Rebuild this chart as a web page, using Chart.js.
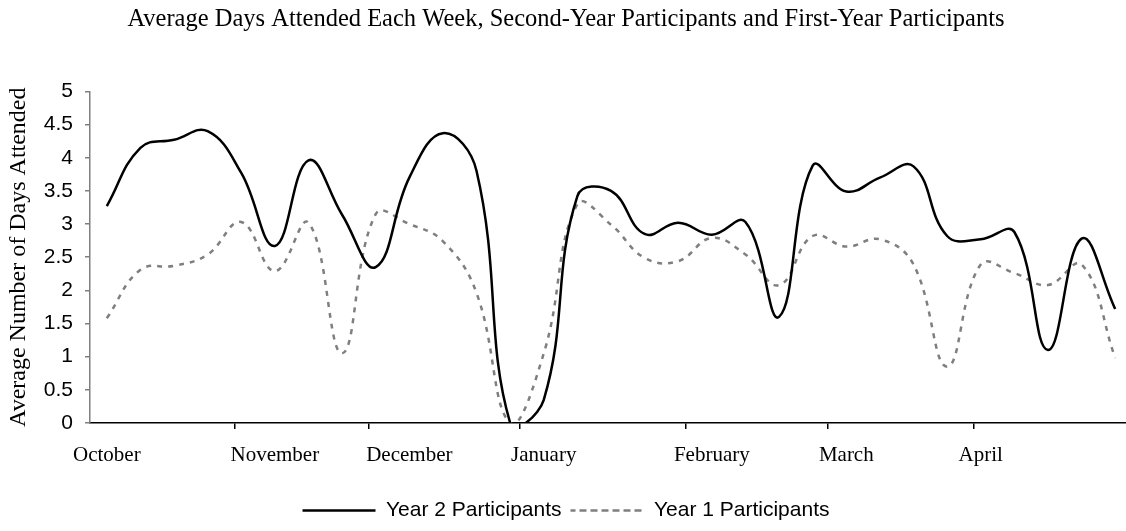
<!DOCTYPE html>
<html>
<head>
<meta charset="utf-8">
<title>Average Days Attended Each Week</title>
<script src="https://cdn.jsdelivr.net/npm/chart.js@4.4.1/dist/chart.umd.min.js"></script>
<style>
  html, body { margin: 0; padding: 0; background: #fff; overflow: hidden; }
  /* plot area runs a few px past the right edge, like the original */
  #wrap { position: relative; width: 1132px; height: 531px; }
</style>
</head>
<body>
<div id="wrap"><canvas id="attendance"></canvas></div>
<script>
  // Weekly averages, October through April (one value per week)
  var year2Values = [3.27, 4.15, 4.27, 4.40, 3.77, 2.67, 3.96, 3.14, 2.35, 3.70, 4.37, 3.80, 0, 0.35, 3.42, 3.50,
    2.85, 3.02, 2.84, 3.03, 1.60, 3.88, 3.49, 3.70, 3.87, 2.82, 2.77, 2.88, 1.10, 2.78, 1.72];
  var year1Values = [1.58, 2.31, 2.37, 2.54, 3.03, 2.29, 3.02, 1.05, 3.15, 3.00, 2.74, 1.96, 0, 1.05, 3.30, 2.99,
    2.49, 2.44, 2.79, 2.54, 2.08, 2.82, 2.66, 2.77, 2.39, 0.85, 2.39, 2.26, 2.08, 2.39, 0.98];

  // Month names and the week each label sits under
  var monthNames = ['October', 'November', 'December', 'January', 'February', 'March', 'April'];
  var monthLabelWeeks = [0, 5, 9, 13, 18, 22, 26];
  // Where the month tick marks fall, in week units
  var monthTickWeeks = [3.82, 7.80, 12.30, 17.21, 21.46, 25.78];

  var seriesNames = ['Year 2 Participants', 'Year 1 Participants'];
  var yTicks = { min: 0, max: 5, step: 0.5 };

  var SERIF = '"Liberation Serif", "Times New Roman", serif';
  var SANS = '"Liberation Sans", Arial, sans-serif';

  var weekLabels = year2Values.map(function (v, i) {
    var k = monthLabelWeeks.indexOf(i);
    return k >= 0 ? monthNames[k] : '';
  });

  new Chart(document.getElementById('attendance'), {
    type: 'line',
    data: {
      labels: weekLabels,
      datasets: [{
        label: seriesNames[0],
        data: year2Values,
        borderColor: '#000',
        backgroundColor: 'transparent',
        borderWidth: 2.5,
        pointRadius: 0,
        tension: 0.42,
        capBezierPoints: false,
        fill: false
      }, {
        label: seriesNames[1],
        data: year1Values,
        borderColor: '#7f7f7f',
        backgroundColor: 'transparent',
        borderWidth: 2.5,
        borderDash: [5, 6],
        pointRadius: 0,
        tension: 0.42,
        capBezierPoints: false,
        fill: false
      }]
    },
    options: {
      responsive: true,
      maintainAspectRatio: false,
      animation: false,
      layout: { padding: 0 },
      plugins: {
        title: {
          display: true,
          text: 'Average Days Attended Each Week, Second-Year Participants and First-Year Participants',
          color: '#000',
          font: { family: SERIF, size: 24.5, weight: 'normal' },
          padding: { top: 5, bottom: 57 }
        },
        legend: {
          position: 'bottom',
          labels: {
            // zero-height box -> strokeRect draws a plain (or dashed) line sample
            boxWidth: 73,
            boxHeight: 0,
            color: '#000',
            font: { family: SANS, size: 21 },
            padding: 9
          }
        },
        tooltip: { enabled: false }
      },
      scales: {
        // month names, one slot per week
        x: {
          type: 'category',
          position: 'bottom',
          weight: 1,
          offset: true,
          grid: { display: false, drawTicks: false },
          border: { display: false },
          ticks: {
            autoSkip: false,
            maxRotation: 0,
            color: '#000',
            font: { family: SERIF, size: 21 },
            padding: 14
          },
          afterFit: function (s) { s.height = 62; }
        },
        // axis line and month tick marks
        xTicks: {
          type: 'linear',
          position: 'bottom',
          weight: 0,
          min: -0.5,
          max: year2Values.length - 0.5,
          afterBuildTicks: function (s) {
            s.ticks = monthTickWeeks.map(function (v) { return { value: v }; });
          },
          ticks: { display: false },
          grid: { drawOnChartArea: false, drawTicks: true, tickLength: 6, color: '#000', lineWidth: 1.5 },
          border: { color: '#000', width: 1.5 },
          afterFit: function (s) { s.height = 6; }
        },
        y: {
          min: yTicks.min,
          max: yTicks.max,
          ticks: {
            stepSize: yTicks.step,
            color: '#000',
            font: { family: SANS, size: 21 },
            padding: 12,
            callback: function (v) { return String(Math.round(v * 10) / 10); }
          },
          grid: { drawOnChartArea: false, tickLength: 5, color: '#7f7f7f', lineWidth: 1.5 },
          border: { color: '#7f7f7f', width: 1.5 },
          title: {
            display: true,
            text: 'Average Number of Days Attended',
            color: '#000',
            font: { family: SERIF, size: 24 },
            padding: { top: 4, bottom: 0 }
          },
          afterFit: function (s) { s.width = 90; }
        }
      }
    }
  });
</script>
</body>
</html>
